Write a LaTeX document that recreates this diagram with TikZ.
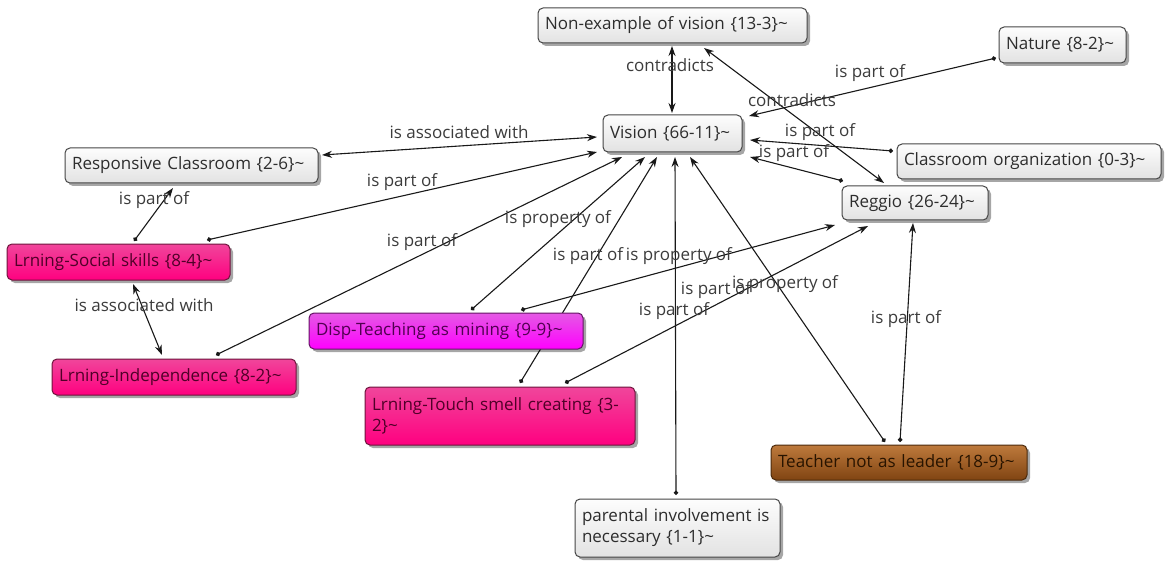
\documentclass[tikz,border=0pt]{standalone}
\usepackage{fontspec}
\setmainfont{Open Sans}
\usetikzlibrary{arrows.meta,calc,shadows}
\pgfdeclarelayer{canvas}
\pgfdeclarelayer{edges}
\pgfsetlayers{canvas,edges,main}
\definecolor{edgec}{RGB}{25,25,25}
\definecolor{lblc}{RGB}{60,60,60}
\definecolor{gborder}{RGB}{70,70,70}
\definecolor{gtop}{RGB}{253,253,253}
\definecolor{gbot}{RGB}{226,226,226}
\definecolor{gtext}{RGB}{45,45,45}
\definecolor{ptop}{RGB}{240,70,155}
\definecolor{pbot}{RGB}{255,0,128}
\definecolor{pborder}{RGB}{110,20,60}
\definecolor{ptext}{RGB}{80,0,40}
\definecolor{mtop}{RGB}{228,90,228}
\definecolor{mbot}{RGB}{255,0,255}
\definecolor{mborder}{RGB}{100,20,100}
\definecolor{mtext}{RGB}{80,0,80}
\definecolor{btop}{RGB}{190,122,60}
\definecolor{bbot}{RGB}{128,68,18}
\definecolor{bborder}{RGB}{75,42,12}
\definecolor{btext}{RGB}{40,20,0}
\begin{document}
\begin{tikzpicture}[x=1pt,y=-1pt,
  box/.style={anchor=north west, rounded corners=5pt, line width=1pt, outer sep=0pt,
    inner xsep=7pt, inner ysep=0pt, align=left, font=\fontsize{17}{21}\selectfont,
    drop shadow={shadow xshift=3pt, shadow yshift=-3pt, opacity=0.35, fill=black}},
  gbox/.style={box, draw=gborder, top color=gtop, bottom color=gbot, text=gtext},
  pbox/.style={box, draw=pborder, top color=ptop, bottom color=pbot, text=ptext},
  mbox/.style={box, draw=mborder, top color=mtop, bottom color=mbot, text=mtext},
  bbox/.style={box, draw=bborder, top color=btop, bottom color=bbot, text=btext},
  link/.style={line width=1.1pt, draw=edgec, {Circle[length=4.5pt]}-{Stealth[length=10pt,width=7pt]}},
  dlink/.style={line width=1.1pt, draw=edgec, {Stealth[length=10pt,width=7pt]}-{Stealth[length=10pt,width=7pt]}},
  lbl/.style={font=\fontsize{17}{21}\selectfont, text=lblc, inner sep=0pt}
]
\useasboundingbox (0,0) rectangle (1167,564);
\begin{pgfonlayer}{canvas}
\fill[white] (0,0) rectangle (1167,564);
\end{pgfonlayer}

% concepts
\node[gbox, text width=255pt, minimum height=35pt] (nonex) at (538,8) {Non-example of vision \{13-3\}\textasciitilde};
\node[gbox, text width=113pt, minimum height=36pt] (nature) at (999,27) {Nature \{8-2\}\textasciitilde};
\node[gbox, text width=125pt, minimum height=37pt] (vision) at (603,115) {Vision \{66-11\}\textasciitilde};
\node[gbox, text width=250pt, minimum height=35pt] (classorg) at (897,144) {Classroom organization \{0-3\}\textasciitilde};
\node[gbox, text width=132pt, minimum height=34pt] (reggio) at (842,186) {Reggio \{26-24\}\textasciitilde};
\node[gbox, text width=239pt, minimum height=35pt] (resp) at (65,148) {Responsive Classroom \{2-6\}\textasciitilde};
\node[pbox, text width=209pt, minimum height=36pt] (social) at (7,244) {Lrning-Social skills \{8-4\}\textasciitilde};
\node[pbox, text width=230pt, minimum height=36pt] (indep) at (52,359) {Lrning-Independence \{8-2\}\textasciitilde};
\node[mbox, text width=260pt, minimum height=36pt] (disp) at (309,313) {Disp-Teaching as mining \{9-9\}\textasciitilde};
\node[pbox, text width=256pt, minimum height=58pt] (touch) at (365,387) {Lrning-Touch smell creating \{3-\\2\}\textasciitilde};
\node[bbox, text width=242pt, minimum height=35pt] (teacher) at (771,445) {Teacher not as leader \{18-9\}\textasciitilde};
\node[gbox, text width=191pt, minimum height=58pt] (parent) at (575,499) {parental involvement is\\necessary \{1-1\}\textasciitilde};

% links
\begin{pgfonlayer}{edges}
\draw[dlink] ($(vision.north west)+(69,-2)$) -- ($(nonex.north west)+(134,38)$);
\draw[dlink] ($(reggio.north west)+(42,-3)$) -- ($(nonex.north west)+(166,40)$);
\draw[link] ($(nature.north west)+(-3,31)$) -- ($(vision.north west)+(146,1)$);
\draw[link] ($(classorg.north west)+(-4,7)$) -- ($(vision.north west)+(147,25)$);
\draw[link] ($(reggio.north west)+(1,-5)$) -- ($(vision.north west)+(147,42)$);
\draw[dlink] ($(vision.north west)+(-6,22)$) -- ($(resp.north west)+(257,7)$);
\draw[link] ($(social.north west)+(200,-4)$) -- ($(vision.north west)+(-6,37)$);
\draw[link] ($(social.north west)+(127,-3)$) -- ($(resp.north west)+(108,40)$);
\draw[dlink] ($(social.north west)+(126,40)$) -- ($(indep.north west)+(110,-4)$);
\draw[link] ($(indep.north west)+(164,-4)$) -- ($(vision.north west)+(19,42)$);
\draw[link] ($(disp.north west)+(162,-3)$) -- ($(vision.north west)+(42,42)$);
\draw[link] ($(touch.north west)+(155,-4)$) -- ($(vision.north west)+(54,42)$);
\draw[link] ($(parent.north west)+(101,-4)$) -- ($(vision.north west)+(72,42)$);
\draw[link] ($(teacher.north west)+(114,-3)$) -- ($(vision.north west)+(87,42)$);
\draw[link] ($(teacher.north west)+(129,-3)$) -- ($(reggio.north west)+(71,37)$);
\draw[link] ($(disp.north west)+(212,-3)$) -- ($(reggio.north west)+(-7,39)$);
\draw[link] ($(touch.north west)+(200,-4)$) -- ($(reggio.north west)+(26,40)$);
\end{pgfonlayer}

% link labels
\node[lbl] (l1) at (670,65) {contradicts};
\node[lbl] (l2) at (792,100) {contradicts};
\node[lbl] (l3) at (870,73) {is part of};
\node[lbl] (l4) at (820,132) {is part of};
\node[lbl] (l5) at (794,153) {is part of};
\node[lbl] (l6) at (459,132) {is associated with};
\node[lbl] (l7) at (402,182) {is part of};
\node[lbl] (l8) at (154,200) {is part of};
\node[lbl] (l9) at (144,305) {is associated with};
\node[lbl] (l10) at (422,242) {is part of};
\node[lbl] (l11) at (558,219) {is property of};
\node[lbl] (l12) at (588,256) {is part of};
\node[lbl] (l13) at (679,256) {is property of};
\node[lbl] (l14) at (716,290) {is part of};
\node[lbl] (l15) at (785,284) {is property of};
\node[lbl] (l16) at (674,311) {is part of};
\node[lbl] (l17) at (906,319) {is part of};
\end{tikzpicture}
\end{document}
